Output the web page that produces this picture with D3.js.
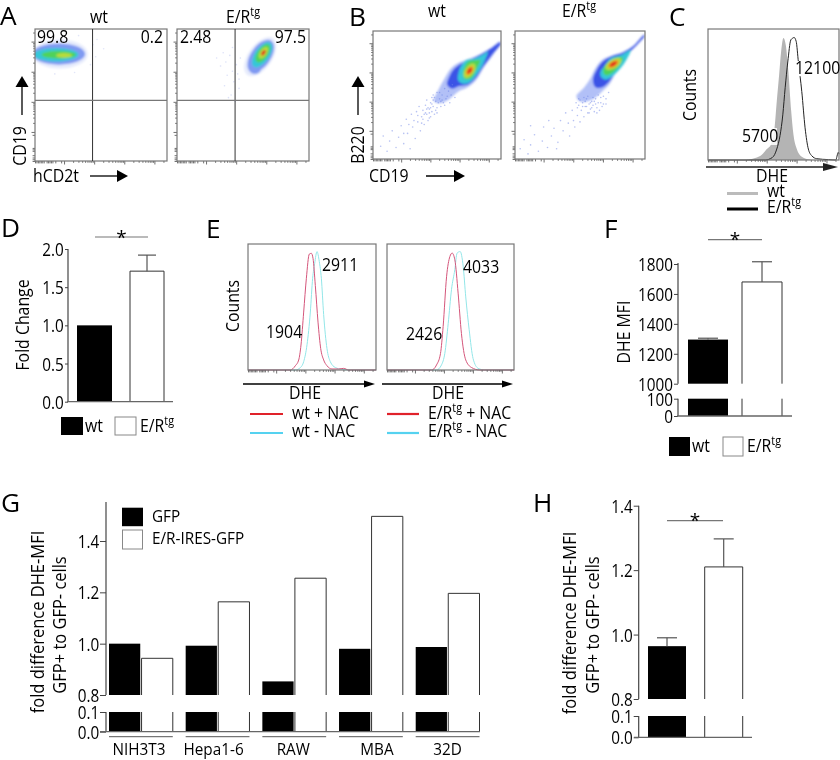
<!DOCTYPE html>
<html>
<head>
<meta charset="utf-8">
<script src="https://cdnjs.cloudflare.com/ajax/libs/d3/7.8.5/d3.min.js"></script>
<style>
html,body{margin:0;padding:0;background:#fff}
svg{display:block}
text{font-family:"Open Sans","Noto Sans",sans-serif;fill:#000}
</style>
</head>
<body>
<svg id="c" width="840" height="760"></svg>
<script>
// ---------- DATA ----------
const densityColors = ["#e6ebfc","#7f9af2","#34c7d8","#4fd25a","#b9dc3c","#f09020","#e0301a"];
const barLabels = ["wt","E/R^tg"];
// A : ellipses [cx, cy, rx, ry, angle, level] in % of channel range
const aWtBlobs = [[19,81,21,11,0,0],[18,81,20,8,0,1],[16,80.5,17,5.2,0,2],[18,80.5,13,3,0,3],[22,80,6,1.8,0,4]];
const aErBlobs = [[63,79,17,9,55,0],[59,71,5,5,0,1],[63.5,79.5,14,7.5,55,1],[64.5,80.5,11,5.5,55,2],[65,81.5,8,4,55,3],[65.5,82,5,2.5,55,4],[65.5,82,2.4,1.2,55,6]];
const aWtSparse = [[44,88],[46,79],[47,92],[42,73],[52,85],[30,67],[15,66],[33,95]];
const aErSparse = [[33,72],[37,75],[40,80],[42,68],[43,60],[45,73],[47,55],[38,65],[36,57],[41,50],[44,45],[46,66],[48,78],[30,78],[35,82],[42,86],[47,62],[39,48]];
const aValues = [["99.8","0.2"],["2.48","97.5"]];
// B : density rings [x, y] in % of channel range
const bWtOuter = [[100,91],[93.5,80.7],[87,72],[80.6,61.7],[74,56],[66.4,52.6],[58.7,46],[52.2,43.5],[47.5,45.3],[51,54],[56,63],[61.2,71],[67.7,75.5],[75.5,78.6],[84.5,82.5],[93.5,87.8],[98.7,91.7]];
const bWtDeep = [[100,90.5],[93,81.5],[86,72],[80,63],[74,58],[67,57],[62,55],[58,58],[60,65],[64,71],[70,75],[77,78],[85,82],[93,87],[99,91]];
const bWtCyan = [[72.9,77.3],[79.3,78.6],[86.3,81.8],[89.7,83.9],[86.3,74.7],[81.1,66],[75.5,60],[69.8,58.9],[66.4,61.7],[67,68],[69.3,73.4]];
const bWtGreen = [[74.2,76],[80.6,77.3],[83.7,77.3],[80.6,69.5],[76.7,63],[71.6,62.5],[70.2,66.9],[71.6,72]];
const bWtCore = [[75.5,69,6.5,3.4,55,4],[75.5,69,4,2.2,55,5],[75.5,69,2.4,1.4,55,6]];
const bErOuter = [[100,97],[94,89],[87.7,82.7],[82.6,76],[77.4,67],[72.3,58],[67.2,53],[59.5,46.5],[50.5,44.7],[47.2,49],[53,55.6],[58.2,63.3],[62,71],[67.2,77.5],[75,81],[82.6,83.5],[91.5,89],[99.2,97.4]];
const bErDeep = [[100,96.5],[94,89.5],[87.5,83],[82,76],[77,68],[72,60],[67,56],[62,56],[60,62],[63,70],[68,76.5],[75,80.5],[83,83],[91,88],[99,96.5]];
const bErCyan = [[68.5,72],[73.6,78.8],[81.3,81],[86.4,84],[89,85],[86.4,78.8],[81.3,71],[74.9,64.6],[69.7,62],[65.9,64.6],[65.9,68.5]];
const bErGreen = [[69.7,73.6],[74.9,78],[81.3,79.6],[83,78.8],[80,72.4],[74.9,67.2],[69.7,65.4],[67.7,68.5]];
const bErCore = [[75.6,74.2,7,3.4,32,4],[75.6,74.2,4.5,2.2,32,5],[75.6,74.2,2.8,1.4,32,6]];
const bWtSparse = [[6,10],[8,18],[11,6],[13,14],[15,22],[18,9],[20,17],[22,26],[24,12],[26,31],[27,20],[29,8],[30,35],[31,25],[33,16],[34,37],[35,29],[36,41],[37,22],[38,33],[39,38],[40,27],[41,42],[42,35],[42,46],[43,30],[44,39],[45,33],[45,44],[46,37],[47,41],[47,50],[48,35],[49,45],[50,40],[50,52],[52,47],[53,41],[54,50],[55,44],[56,55],[58,49],[60,44],[62,58],[64,48],[43,40],[39,31],[41,36],[44,36],[46,43],[48,48],[51,44],[49,38],[45,40],[52,52],[54,46],[57,47],[59,53],[61,50],[47,46],[40,35],[38,28],[44,32],[42,39],[46,48],[50,36],[53,45],[56,42],[28,27],[32,30],[35,34],[24,20]];
const bErSparse = [[4,8],[7,15],[10,4],[12,11],[15,19],[18,6],[21,14],[25,9],[28,18],[30,24],[33,13],[35,30],[37,22],[39,36],[41,28],[42,18],[44,38],[45,30],[46,25],[48,34],[49,42],[50,29],[51,38],[52,44],[53,33],[54,41],[55,47],[56,36],[57,43],[58,39],[59,45],[60,42],[61,37],[62,47],[63,40],[64,44],[65,38],[66,48],[68,43],[70,47],[72,52],[48,40],[50,46],[53,48],[55,41],[57,36],[59,40],[61,45],[63,36],[67,41],[22,25],[32,8],[12,26],[26,30],[47,44],[49,47],[52,41],[54,45],[56,49],[58,44],[60,48],[62,43],[64,50],[66,44],[68,49],[70,43]];
const bTitles = ["wt","E/R^tg"];
// C : histograms [channel %, count %]
const cGray = [[28.4,0],[36,1.5],[41.1,4],[44.9,8.5],[48.2,12.3],[50.8,25],[52.5,45.5],[54.3,66],[55.8,84],[57.6,94.5],[59.4,89],[61.4,68.5],[63.5,38],[65.2,20],[67.8,8.5],[71.6,2.5],[76.6,0.5],[81.7,0]];
const cBlack = [[0,0],[43.7,0],[49.2,2],[52.5,8.5],[55,19],[57.1,35],[58.9,56],[60.9,76],[63.2,93],[64.7,94.5],[65.7,95],[67.3,92],[69,76],[71.6,53],[74.1,25],[76.6,8.5],[79.2,3.3],[83,1],[91.9,.3],[97.5,0],[99.5,6],[100,4.5]];
// E : histograms
const e1Red = [[0,0],[33.1,0],[37,3.4],[39.6,7.9],[41.4,19.8],[43.5,46],[45.6,72.8],[47.9,92],[49.5,92.6],[50.8,88.6],[52.6,67],[54.7,38],[56.8,17],[59.1,8],[61.7,3.4],[65.6,.8],[70.8,.8],[74.7,1.3],[78.6,0],[100,0]];
const e1Cyan = [[0,0],[37,0],[40.9,1.9],[43.5,6.6],[46.1,20],[48.7,46],[50.5,72.8],[52.1,84.6],[53.9,94],[55.7,86],[57.3,72.8],[59.1,44],[61.7,17],[64.3,6.6],[68.2,2],[73.4,.5],[79.9,0],[100,0]];
const e2Red = [[0,0],[35.1,0],[39,4],[42.1,13],[44.2,34.5],[46.9,74],[49.5,90],[51.3,92.8],[53.4,87.5],[56,61],[58.6,29],[62,8],[66.5,2],[73,0],[100,0]];
const e2Cyan = [[0,0],[39,0],[42.9,4],[45.5,13],[48.2,37],[50.8,64],[53.4,79.6],[55.2,92.8],[57.6,94],[60,82.2],[62,58],[64.7,32],[67.8,9],[71.8,1.3],[77,0],[100,0]];
// D
const dTicks = [0,0.5,1,1.5,2];
const dValues = [1.0,1.71];
const dErrors = [1.0,1.92];
// F
const fUpperTicks = [1000,1200,1400,1600,1800];
const fLowerTicks = [0,100];
const fValues = [1295,1680];
const fErrors = [1304,1815];
// G
const gCategories = ["NIH3T3","Hepa1-6","RAW","MBA","32D"];
const gSeries = ["GFP","E/R-IRES-GFP"];
const gGfp = [1.0,0.992,0.853,0.98,0.987];
const gEr = [0.943,1.163,1.255,1.496,1.196];
const gUpperTicks = [0.8,1.0,1.2,1.4];
const gLowerTicks = [0,0.1];
// H
const hUpperTicks = [0.8,1.0,1.2,1.4];
const hLowerTicks = [0,0.1];
const hValues = [0.964,1.21];
const hErrors = [0.99,1.297];

// ---------- HELPERS ----------
const svg = d3.select("#c");
const XS = 0.88, AX = "#444";
const defs = svg.append("defs");
defs.append("filter").attr("id","soft").attr("x","-20%").attr("y","-20%").attr("width","140%").attr("height","140%")
  .append("feGaussianBlur").attr("stdDeviation",0.9);
defs.append("filter").attr("id","softer").attr("x","-5%").attr("y","-5%").attr("width","110%").attr("height","110%")
  .append("feGaussianBlur").attr("stdDeviation",0.22);
const root = svg.append("g").attr("filter","url(#softer)");

function txt(x,y,s,o={}){
  const size=o.size||18, anchor=o.anchor||"start";
  const t=root.append("text").attr("font-size",size).attr("text-anchor",anchor)
    .attr("transform",`translate(${x},${y})`+(o.rot?" rotate(-90)":"")+` scale(${o.xs||XS},1)`);
  const parts=s.split("^tg");
  t.append("tspan").text(parts[0]);
  if(parts.length>1){
    t.append("tspan").attr("font-size",size*0.68).attr("dy",-size*0.38).text("tg");
    if(parts[1]) t.append("tspan").attr("font-size",size).attr("dy",size*0.38).text(parts[1]);
  }
  return t;
}
function arrow(x1,y1,x2,y2,hl,hw,w,col){
  const a=Math.atan2(y2-y1,x2-x1),c=Math.cos(a),s=Math.sin(a);
  root.append("line").attr("x1",x1).attr("y1",y1).attr("x2",x2-c*hl*0.6).attr("y2",y2-s*hl*0.6).attr("stroke",col||"#000").attr("stroke-width",w||1.3);
  root.append("path").attr("fill",col||"#000").attr("d",d3.line()([[x2,y2],[x2-c*hl-s*hw,y2-s*hl+c*hw],[x2-c*hl+s*hw,y2-s*hl-c*hw]])+"Z");
}
function flowTicks(x0,y0,w,h,left){
  const lowFrac=0.22;
  const hiB=d3.scaleLog().domain([100,262144]).range([x0+w*lowFrac,x0+w]);
  const loB=d3.scaleLinear().domain([0,100]).range([x0,x0+w*lowFrac]);
  const mk=(axis,scale,vals,size,tr)=>{
    const g=root.append("g").attr("transform",tr).call(axis(scale).tickValues(vals).tickSize(size).tickFormat(""));
    g.select(".domain").remove();
    g.selectAll("line").attr("stroke","#333").attr("stroke-width",0.7);
  };
  const dec=[100,1000,10000,100000];
  const minor=hiB.ticks().filter(d=>!dec.includes(d));
  const lowT=[0,5,10,15,20,25,30,40,45,50,55,60,70,90];
  mk(d3.axisBottom,hiB,dec,3.5,`translate(0,${y0+h})`);
  mk(d3.axisBottom,hiB,minor,1.8,`translate(0,${y0+h})`);
  mk(d3.axisBottom,loB,lowT,2.4,`translate(0,${y0+h})`);
  if(left){
    const hiL=d3.scaleLog().domain([100,262144]).range([y0+h*(1-lowFrac),y0]);
    const loL=d3.scaleLinear().domain([0,100]).range([y0+h,y0+h*(1-lowFrac)]);
    mk(d3.axisLeft,hiL,dec,3.5,`translate(${x0},0)`);
    mk(d3.axisLeft,hiL,hiL.ticks().filter(d=>!dec.includes(d)),1.8,`translate(${x0},0)`);
    mk(d3.axisLeft,loL,[0,6,12,20,35,40,45,90],2.4,`translate(${x0},0)`);
  }
}
let clipN=0;
function flowPlot(x0,y0,w,h,o){
  const x=d3.scaleLinear().domain([0,100]).range([x0,x0+w]);
  const y=d3.scaleLinear().domain([0,100]).range([y0+h,y0]);
  const id="clip"+(clipN++);
  defs.append("clipPath").attr("id",id).append("rect").attr("x",x0).attr("y",y0).attr("width",w).attr("height",h);
  const g=root.append("g").attr("clip-path",`url(#${id})`);
  const ring=d3.line().x(d=>x(d[0])).y(d=>y(d[1])).curve(d3.curveCatmullRomClosed);
  const b=g.append("g").attr("filter","url(#soft)");
  (o.rings||[]).forEach(r=>{
    b.append("path").attr("d",ring(r[0])).attr("fill",r[1]).attr("opacity",r[2]||1);
  });
  (o.blobs||[]).forEach(e=>{
    b.append("ellipse").attr("cx",0).attr("cy",0)
      .attr("rx",Math.abs(x(e[2])-x(0))).attr("ry",Math.abs(y(0)-y(e[3])))
      .attr("fill",densityColors[e[5]])
      .attr("transform",`translate(${x(e[0])},${y(e[1])}) rotate(${-e[4]})`);
  });
  (o.sparse||[]).forEach(d=>g.append("circle").attr("cx",x(d[0])).attr("cy",y(d[1])).attr("r",o.sr||0.8).attr("fill",o.sc||"#8a9ce8").attr("opacity",o.so||0.5));
  flowTicks(x0,y0,w,h,o.left);
  root.append("rect").attr("x",x0).attr("y",y0).attr("width",w).attr("height",h).attr("fill","none").attr("stroke","#777").attr("stroke-width",1.2);
  return {x,y};
}
function quadrants(p,qx,qy){
  root.append("line").attr("x1",p.x(qx)).attr("x2",p.x(qx)).attr("y1",p.y(0)).attr("y2",p.y(100)).attr("stroke","#333").attr("stroke-width",1);
  root.append("line").attr("x1",p.x(0)).attr("x2",p.x(100)).attr("y1",p.y(qy)).attr("y2",p.y(qy)).attr("stroke","#777").attr("stroke-width",1.2);
}
function yAxis(x0,scale,ticks,fmt,size,top,bot){
  const g=root.append("g").attr("transform",`translate(${x0},0)`)
    .call(d3.axisLeft(scale).tickValues(ticks).tickSize(size).tickPadding(2).tickFormat(fmt));
  g.select(".domain").remove();
  g.selectAll("line").attr("stroke",AX).attr("stroke-width",1);
  g.selectAll("text").attr("font-size",18).attr("fill","#000").attr("font-family",'"Open Sans"')
    .attr("dy","0.36em").attr("transform","scale(0.85,1)");
  root.append("line").attr("x1",x0).attr("x2",x0).attr("y1",top).attr("y2",bot).attr("stroke",AX).attr("stroke-width",1.2);
}
function openBar(x1,x2,yTop,yBot,closed){
  const d=closed?[[x1,yBot],[x1,yTop],[x2,yTop],[x2,yBot]]:null;
  if(closed){
    root.append("path").attr("d",d3.line()(d)).attr("fill","#fff").attr("stroke","#333").attr("stroke-width",1);
  } else {
    [x1,x2].forEach(v=>root.append("line").attr("x1",v).attr("x2",v).attr("y1",yTop).attr("y2",yBot).attr("stroke","#333").attr("stroke-width",1));
  }
}
function solid(x1,x2,yTop,yBot){
  root.append("rect").attr("x",x1).attr("y",yTop).attr("width",x2-x1).attr("height",yBot-yTop).attr("fill","#000");
}
function errBar(xc,half,yVal,yTop){
  root.append("line").attr("x1",xc).attr("x2",xc).attr("y1",yVal).attr("y2",yTop).attr("stroke","#555").attr("stroke-width",1.2);
  root.append("line").attr("x1",xc-half).attr("x2",xc+half).attr("y1",yTop).attr("y2",yTop).attr("stroke","#555").attr("stroke-width",1.2);
}
function sig(x1,x2,y){
  root.append("line").attr("x1",x1).attr("x2",x2).attr("y1",y).attr("y2",y).attr("stroke","#777").attr("stroke-width",1.2);
  txt((x1+x2)/2,y+6.5,"*",{anchor:"middle",size:19,xs:1});
}
function swatchLegend(x1,y,h,w1,labels,gapX,textOff,baseline){
  root.append("rect").attr("x",x1).attr("y",y).attr("width",w1).attr("height",h).attr("fill","#000");
  txt(x1+w1+2,baseline,labels[0]);
  root.append("rect").attr("x",x1+gapX).attr("y",y).attr("width",w1-1).attr("height",h).attr("fill","#fff").attr("stroke","#888").attr("stroke-width",1);
  txt(x1+gapX+w1+textOff,baseline,labels[1]);
}
const histLine=(p)=>d3.line().x(d=>p.x(d[0])).y(d=>p.y(d[1])).curve(d3.curveMonotoneX);

// ---------- PANEL LETTERS ----------
[["A",0,25],["B",349,26],["C",669,26],["D",1,237],["E",206,238],["F",604,238],["G",1,512],["H",533,512]]
  .forEach(d=>txt(d[1],d[2],d[0],{size:25,xs:1.05}));

// ---------- A ----------
const a1=flowPlot(35,29,132,132,{blobs:aWtBlobs,sparse:aWtSparse,left:true,so:.25});
const a2=flowPlot(177,29,132,132,{blobs:aErBlobs,sparse:aErSparse,left:true,so:.3});
quadrants(a1,43.6,46); quadrants(a2,44,46);
txt(99,23,barLabels[0],{anchor:"middle"});
txt(226,23,barLabels[1]);
txt(37,43,aValues[0][0]); txt(163,43,aValues[0][1],{anchor:"end"});
txt(180,43,aValues[1][0]); txt(306,43,aValues[1][1],{anchor:"end"});
txt(26,146,"CD19",{rot:true,anchor:"middle"});
arrow(22,115,22,76,11,6.5);
txt(33,182,"hCD2t");
arrow(90,176,128,176,11,6);

// ---------- B ----------
const pale="#9fb0f5", deep="#3a52e6";
flowPlot(373,31,128,128,{left:true,sparse:bWtSparse,so:.5,sc:"#6f86e8",sr:.8,
  rings:[[bWtOuter,pale,.8],[bWtDeep,deep],[bWtCyan,densityColors[2]],[bWtGreen,densityColors[3]]],blobs:bWtCore});
flowPlot(515,31,130,128,{left:true,sparse:bErSparse,so:.5,sc:"#6f86e8",sr:.8,
  rings:[[bErOuter,pale,.8],[bErDeep,deep],[bErCyan,densityColors[2]],[bErGreen,densityColors[3]]],blobs:bErCore});
txt(437,17,bTitles[0],{anchor:"middle"});
txt(562,17,bTitles[1]);
txt(364,145,"B220",{rot:true,anchor:"middle"});
arrow(358,115,358,76,11,6.5);
txt(369,182,"CD19");
arrow(426,176,465,176,11,6);

// ---------- C ----------
(function(){
  const x0=708,y0=29,w=131,h=131;
  const p={x:d3.scaleLinear().domain([0,100]).range([x0,x0+w]),y:d3.scaleLinear().domain([0,100]).range([y0+h,y0+2])};
  root.append("path").attr("fill","#b4b4b4").attr("d",d3.area().x(d=>p.x(d[0])).y0(p.y(0)).y1(d=>p.y(d[1])).curve(d3.curveMonotoneX)(cGray));
  root.append("rect").attr("x",741).attr("y",128).attr("width",36).attr("height",17).attr("fill","#fff").attr("opacity",.85);
  root.append("path").attr("fill","none").attr("stroke","#222").attr("stroke-width",1).attr("d",histLine(p)(cBlack));
  root.append("rect").attr("x",796).attr("y",61).attr("width",40).attr("height",15).attr("fill","#fff");
  flowTicks(x0,y0,w,h,false);
  root.append("rect").attr("x",x0).attr("y",y0).attr("width",w).attr("height",h).attr("fill","none").attr("stroke","#777").attr("stroke-width",1.2);
  txt(795,74,"12100"); txt(742,142,"5700");
  txt(696,95,"Counts",{rot:true,anchor:"middle"});
  arrow(706,167,838,167,15,4,1.5,"#222");
  txt(772,182,"DHE",{anchor:"middle"});
  root.append("line").attr("x1",727).attr("x2",758).attr("y1",193.5).attr("y2",193.5).attr("stroke","#bbb").attr("stroke-width",3);
  root.append("line").attr("x1",727).attr("x2",758).attr("y1",209).attr("y2",209).attr("stroke","#000").attr("stroke-width",3);
  txt(767,197,"wt"); txt(767,213,"E/R^tg");
})();

// ---------- D ----------
(function(){
  const y=d3.scaleLinear().domain([0,2]).range([401.7,249]);
  const xL=d3.scaleOrdinal().domain(barLabels).range([[77,112],[130,164]]);
  yAxis(68,y,dTicks,d3.format(".1f"),3,y(2),y(0));
  const [a,b]=barLabels.map(d=>xL(d));
  solid(a[0],a[1],y(dValues[0]),y(0));
  openBar(b[0],b[1],y(dValues[1]),y(0),true);
  errBar((b[0]+b[1])/2,9,y(dValues[1]),y(dErrors[1]));
  root.append("line").attr("x1",67).attr("x2",173).attr("y1",y(0)).attr("y2",y(0)).attr("stroke","#666").attr("stroke-width",1.3);
  sig(95,148,237);
  txt(29,325,"Fold Change",{rot:true,anchor:"middle"});
  swatchLegend(61,417,18,22,barLabels,54,3,432);
})();

// ---------- E ----------
(function(){
  const panels=[{x0:248,w:128,red:e1Red,cy:e1Cyan},{x0:387,w:127,red:e2Red,cy:e2Cyan}];
  panels.forEach(q=>{
    const p={x:d3.scaleLinear().domain([0,100]).range([q.x0,q.x0+q.w]),y:d3.scaleLinear().domain([0,100]).range([370,244])};
    root.append("path").attr("fill","none").attr("stroke","#92e6e8").attr("stroke-width",1).attr("d",histLine(p)(q.cy));
    root.append("path").attr("fill","none").attr("stroke","#d4557a").attr("stroke-width",1).attr("d",histLine(p)(q.red));
    flowTicks(q.x0,244,q.w,126,false);
    root.append("rect").attr("x",q.x0).attr("y",244).attr("width",q.w).attr("height",126).attr("fill","none").attr("stroke","#777").attr("stroke-width",1.2);
  });
  txt(266,338,"1904"); txt(322,271,"2911"); txt(406,340,"2426"); txt(463,273,"4033");
  txt(239,306,"Counts",{rot:true,anchor:"middle"});
  arrow(243,384,375,384,11,3.5,1.3);
  arrow(382,384,513,384,11,3.5,1.3);
  txt(305,399,"DHE",{anchor:"middle"}); txt(448,399,"DHE",{anchor:"middle"});
  [[250,283],[387,419]].forEach(l=>{
    root.append("line").attr("x1",l[0]).attr("x2",l[1]).attr("y1",414).attr("y2",414).attr("stroke","#e0222a").attr("stroke-width",2.2);
    root.append("line").attr("x1",l[0]).attr("x2",l[1]).attr("y1",433).attr("y2",433).attr("stroke","#55d2f0").attr("stroke-width",2.2);
  });
  txt(292,419,"wt + NAC"); txt(292,437,"wt - NAC");
  txt(428,419,"E/R^tg + NAC"); txt(428,437,"E/R^tg - NAC");
})();

// ---------- F ----------
(function(){
  const yU=d3.scaleLinear().domain([1000,1800]).range([383.7,264]);
  const yL=d3.scaleLinear().domain([0,100]).range([416,398.7]);
  yAxis(678,yU,fUpperTicks,d3.format("d"),4,yU(1800)-1,yU(1000));
  yAxis(678,yL,fLowerTicks,d3.format("d"),4,yL(100),yL(0));
  solid(688,728,yU(fValues[0]),yU(1000)); solid(688,728,yL(100),yL(0));
  openBar(742,782,yU(fValues[1]),yU(1000),true); openBar(742,782,yL(100),yL(0),false);
  errBar(708,10,yU(fValues[0]),yU(fErrors[0]));
  errBar(762,10,yU(fValues[1]),yU(fErrors[1]));
  root.append("line").attr("x1",677).attr("x2",792).attr("y1",yL(0)).attr("y2",yL(0)).attr("stroke","#666").attr("stroke-width",1.3);
  sig(708,762,239.7);
  txt(630,332,"DHE MFI",{rot:true,anchor:"middle"});
  swatchLegend(669,437,19,21,barLabels,54,3,452);
})();

// ---------- G ----------
(function(){
  const yU=d3.scaleLinear().domain([0.8,1.4]).range([695,541]);
  const yL=d3.scaleLinear().domain([0,0.1]).range([731.7,712]);
  const x0=d3.scaleBand().domain(gCategories).range([109,479.5]).paddingInner(.168).paddingOuter(0);
  const x1=d3.scaleBand().domain(gSeries).range([0,x0.bandwidth()]).paddingInner(.04);
  const labelShift={"NIH3T3":-2,"Hepa1-6":-4,"RAW":-1,"MBA":6,"32D":0};
  yAxis(106,yU,gUpperTicks,d3.format(".1f"),6,502,yU(0.8));
  yAxis(106,yL,gLowerTicks,d3.format(".1f"),6,yL(0.1),yL(0));
  gCategories.forEach((c,i)=>{
    const xa=x0(c)+x1(gSeries[0]), xb=x0(c)+x1(gSeries[1]), bw=x1.bandwidth();
    solid(xa,xa+bw,yU(gGfp[i]),yU(0.8)); solid(xa,xa+bw,yL(0.1),yL(0));
    openBar(xb,xb+bw,yU(gEr[i]),yU(0.8),true); openBar(xb,xb+bw,yL(0.1),yL(0),false);
    root.append("line").attr("x1",x0(c)).attr("x2",x0(c)+x0.bandwidth()).attr("y1",736.7).attr("y2",736.7).attr("stroke","#555").attr("stroke-width",1);
    txt(x0(c)+x0.bandwidth()/2+labelShift[c],755,c,{anchor:"middle",size:17,xs:.9});
  });
  root.append("line").attr("x1",100).attr("x2",480).attr("y1",yL(0)).attr("y2",yL(0)).attr("stroke","#666").attr("stroke-width",1.3);
  txt(44,622,"fold difference DHE-MFI",{rot:true,anchor:"middle",xs:.915});
  txt(66,625,"GFP+ to GFP- cells",{rot:true,anchor:"middle",xs:.915});
  root.append("rect").attr("x",122).attr("y",507.7).attr("width",21).attr("height",18.5).attr("fill","#000");
  root.append("rect").attr("x",122.5).attr("y",530).attr("width",20).attr("height",19).attr("fill","#fff").attr("stroke","#888");
  txt(152,522,gSeries[0],{size:17,xs:.9}); txt(152,544,gSeries[1],{size:17,xs:.9});
})();

// ---------- H ----------
(function(){
  const yU=d3.scaleLinear().domain([0.8,1.4]).range([699,505.7]);
  const yL=d3.scaleLinear().domain([0,0.1]).range([737.3,716]);
  yAxis(638.7,yU,hUpperTicks,d3.format(".1f"),5,yU(1.4),yU(0.8));
  yAxis(638.7,yL,hLowerTicks,d3.format(".1f"),5,yL(0.1),yL(0));
  solid(648,686,yU(hValues[0]),yU(0.8)); solid(648,686,yL(0.1),yL(0));
  openBar(704.7,742.7,yU(hValues[1]),yU(0.8),true); openBar(704.7,742.7,yL(0.1),yL(0),false);
  errBar(667,10,yU(hValues[0]),yU(hErrors[0]));
  errBar(723.7,10,yU(hValues[1]),yU(hErrors[1]));
  root.append("line").attr("x1",634).attr("x2",752).attr("y1",yL(0)).attr("y2",yL(0)).attr("stroke","#666").attr("stroke-width",1.3);
  sig(667,723,520.7);
  txt(576,623,"fold difference DHE-MFI",{rot:true,anchor:"middle",xs:.915});
  txt(599,625,"GFP+ to GFP- cells",{rot:true,anchor:"middle",xs:.915});
})();
</script>
</body>
</html>
